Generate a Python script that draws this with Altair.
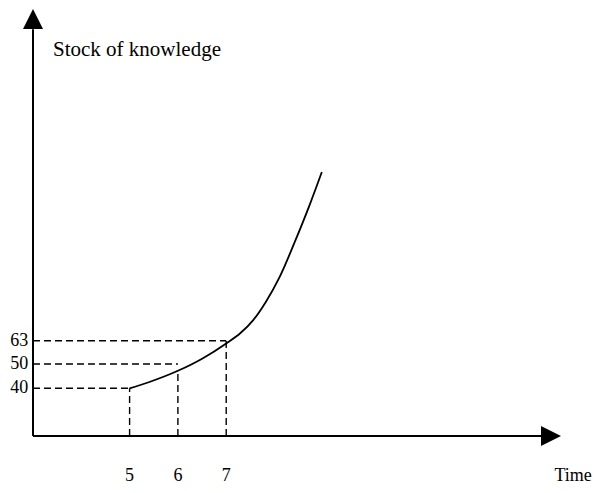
import altair as alt
import pandas as pd

# ---- data ----
curve_time = [5.0, 5.41, 6.0, 6.51, 7.0, 7.29, 7.56, 7.82, 8.11, 8.42, 8.74, 8.98]
curve_stock = [40, 42.6, 47.2, 53.1, 61.5, 67.2, 74.6, 84.8, 99.0, 118.5, 140.2, 157.8]

tick_times = [5, 6, 7]
tick_levels = [40, 50, 63]
curve_at_ticks = [40, 47.5, 63]

y_label = "Stock of knowledge"
x_label = "Time"

# axis geometry (data units)
x_origin, x_end = 3, 13.52
y_origin, y_end = 0, 238

FONT = "Liberation Serif"

xs = alt.Scale(domain=[3, 13], range=[25, 508], nice=False, zero=False)
ys = alt.Scale(domain=[-40, 0, 40, 50, 63, 250], range=[475.7, 428, 380.3, 356, 332.7, 0],
               nice=False, zero=False)

X = lambda f: alt.X(f, type="quantitative", scale=xs, axis=None)
Y = lambda f: alt.Y(f, type="quantitative", scale=ys, axis=None)

curve_df = pd.DataFrame({"t": curve_time, "s": curve_stock})
curve = alt.Chart(curve_df).mark_line(color="black", strokeWidth=1.8, interpolate="monotone").encode(
    x=X("t"), y=Y("s"))

vdash_df = pd.DataFrame({"t": tick_times, "s0": [y_origin] * 3, "s1": curve_at_ticks})
vdash = alt.Chart(vdash_df).mark_rule(color="black", strokeWidth=1.4, strokeDash=[7, 4]).encode(
    x=X("t"), y=Y("s0"), y2="s1")

hdash_df = pd.DataFrame({"s": tick_levels, "t0": [x_origin] * 3, "t1": tick_times})
hdash = alt.Chart(hdash_df).mark_rule(color="black", strokeWidth=1.4, strokeDash=[7, 4]).encode(
    y=Y("s"), x=X("t0"), x2="t1")

axes_df = pd.DataFrame({"t0": [x_origin, x_origin], "t1": [x_origin, x_end],
                        "s0": [y_origin, y_origin], "s1": [y_end, y_origin]})
axes = alt.Chart(axes_df).mark_rule(color="black", strokeWidth=2).encode(
    x=X("t0"), x2="t1", y=Y("s0"), y2="s1")

up_df = pd.DataFrame({"t": [x_origin], "s": [243.8]})
up = alt.Chart(up_df).mark_point(shape="M0,-1L1,1L-1,1Z", size=400, filled=True, color="black",
                                  opacity=1).encode(x=X("t"), y=Y("s"))
right_df = pd.DataFrame({"t": [13.725], "s": [y_origin]})
right = alt.Chart(right_df).mark_point(shape="M1,0L-1,-1L-1,1Z", size=400, filled=True, color="black",
                                        opacity=1).encode(x=X("t"), y=Y("s"))

xt_df = pd.DataFrame({"t": tick_times, "s": [-33.5] * 3, "lab": [str(v) for v in tick_times]})
xt = alt.Chart(xt_df).mark_text(font=FONT, fontSize=18, color="black", align="center",
                                baseline="middle").encode(x=X("t"), y=Y("s"), text="lab")

yt_df = pd.DataFrame({"t": [2.9] * 3, "s": tick_levels, "lab": [str(v) for v in tick_levels]})
yt = alt.Chart(yt_df).mark_text(font=FONT, fontSize=18, color="black", align="right",
                                baseline="middle").encode(x=X("t"), y=Y("s"), text="lab")

ylab_df = pd.DataFrame({"t": [3.414], "s": [226.4], "lab": [y_label]})
ylab = alt.Chart(ylab_df).mark_text(font=FONT, fontSize=21, color="black", align="left",
                                    baseline="middle").encode(x=X("t"), y=Y("s"), text="lab")

xlab_df = pd.DataFrame({"t": [14.57], "s": [-33.5], "lab": [x_label]})
xlab = alt.Chart(xlab_df).mark_text(font=FONT, fontSize=18, color="black", align="right",
                                    baseline="middle").encode(x=X("t"), y=Y("s"), text="lab")

chart = alt.layer(hdash, vdash, curve, axes, up, right, xt, yt, ylab, xlab).properties(
    width=585, height=477, autosize=alt.AutoSizeParams(type="none"),
    padding={"left": 0, "top": 0, "right": 0, "bottom": 0}
).configure_view(stroke=None)

chart.save("out.html", embed_options={"renderer": "svg", "actions": False})
